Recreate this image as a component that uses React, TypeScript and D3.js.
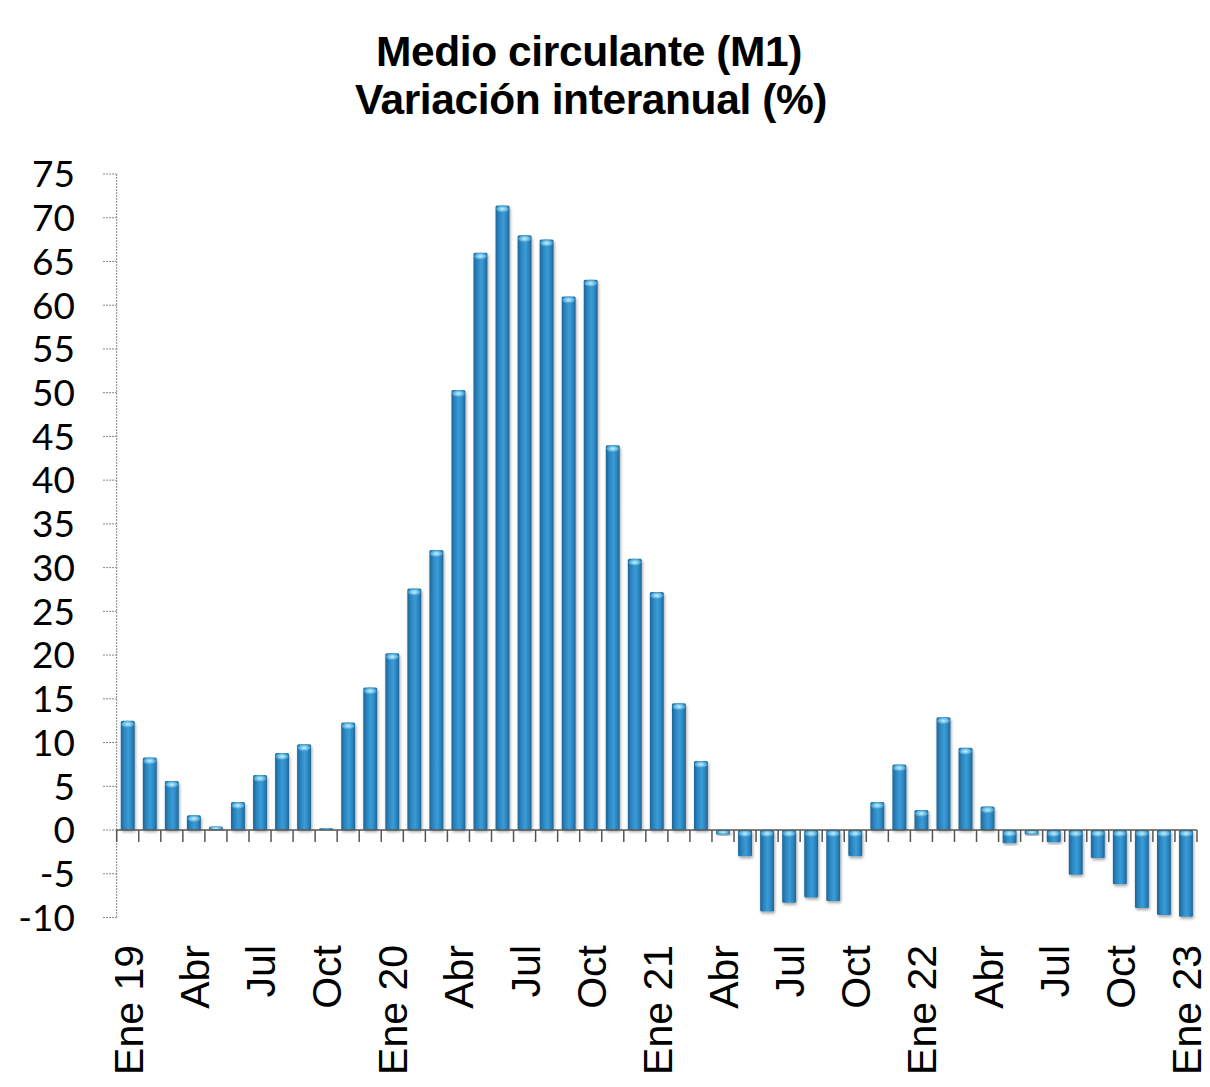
import React from "react";
import * as d3 from "d3";

const months: string[] = [
  "Ene 19","Feb 19","Mar 19","Abr 19","May 19","Jun 19","Jul 19","Ago 19","Sep 19","Oct 19","Nov 19","Dic 19",
  "Ene 20","Feb 20","Mar 20","Abr 20","May 20","Jun 20","Jul 20","Ago 20","Sep 20","Oct 20","Nov 20","Dic 20",
  "Ene 21","Feb 21","Mar 21","Abr 21","May 21","Jun 21","Jul 21","Ago 21","Sep 21","Oct 21","Nov 21","Dic 21",
  "Ene 22","Feb 22","Mar 22","Abr 22","May 22","Jun 22","Jul 22","Ago 22","Sep 22","Oct 22","Nov 22","Dic 22",
  "Ene 23",
];

const values: number[] = [
  12.5, 8.3, 5.6, 1.7, 0.4, 3.2, 6.3, 8.8, 9.8, 0.2, 12.3, 16.3,
  20.2, 27.6, 32.0, 50.3, 66.0, 71.4, 68.0, 67.5, 61.0, 62.9, 44.0, 31.0,
  27.2, 14.5, 7.9, -0.5, -3.0, -9.3, -8.3, -7.7, -8.1, -3.0, 3.2, 7.5,
  2.3, 12.9, 9.4, 2.7, -1.5, -0.5, -1.4, -5.1, -3.2, -6.2, -8.9, -9.7,
  -9.9,
];

const labelShown: Record<string, string> = {
  "Ene 19": "Ene 19", "Abr 19": "Abr", "Jul 19": "Jul", "Oct 19": "Oct",
  "Ene 20": "Ene 20", "Abr 20": "Abr", "Jul 20": "Jul", "Oct 20": "Oct",
  "Ene 21": "Ene 21", "Abr 21": "Abr", "Jul 21": "Jul", "Oct 21": "Oct",
  "Ene 22": "Ene 22", "Abr 22": "Abr", "Jul 22": "Jul", "Oct 22": "Oct",
  "Ene 23": "Ene 23",
};

const yTicks: number[] = [-10, -5, 0, 5, 10, 15, 20, 25, 30, 35, 40, 45, 50, 55, 60, 65, 70, 75];

const titleLines: string[] = ["Medio circulante (M1)", "Variación interanual (%)"];

export default function App() {
  const W = 1210, H = 1087;
  const left = 116.7, right = 1197;
  const y = d3.scaleLinear().domain([-10, 75]).range([917.5, 174]);
  const x = d3.scaleBand<string>().domain(months).range([left, right]).paddingInner(0.37).paddingOuter(0.185);
  const step = x.step();
  const bw = x.bandwidth();
  const y0 = y(0);

  return (
    <svg width={W} height={H} style={{ position: "absolute", left: 0, top: 0, background: "#fff" }}>
      <defs>
        <linearGradient id="barGrad" x1="0" x2="1" y1="0" y2="0">
          <stop offset="0" stopColor="#1d6494" />
          <stop offset="0.25" stopColor="#2c84bf" />
          <stop offset="0.55" stopColor="#399dd6" />
          <stop offset="0.8" stopColor="#2c84bf" />
          <stop offset="1" stopColor="#1d6494" />
        </linearGradient>
        <radialGradient id="capGrad" cx="0.5" cy="0.5" r="0.5">
          <stop offset="0" stopColor="#d0f4ff" />
          <stop offset="0.5" stopColor="#82cdee" />
          <stop offset="1" stopColor="#3a95cc" />
        </radialGradient>
        <filter id="shadow" x="-50%" y="-20%" width="200%" height="140%">
          <feDropShadow dx="1" dy="2" stdDeviation="1.8" floodColor="#000" floodOpacity="0.35" />
        </filter>
      </defs>

      {/* Title */}
      <g fontFamily="'Liberation Sans', Arial, sans-serif" fontWeight="bold" fontSize={42.5} textAnchor="middle" fill="#000">
        <text x={589} y={66} letterSpacing={-0.4}>{titleLines[0]}</text>
        <text x={591} y={114} letterSpacing={-0.4}>{titleLines[1]}</text>
      </g>

      {/* Y axis */}
      <line x1={left} x2={left} y1={y(75)} y2={y(-10)} stroke="#888" strokeWidth={1} strokeDasharray="2,1" />
      {yTicks.map((t) => (
        <g key={t}>
          <line x1={103} x2={left} y1={y(t)} y2={y(t)} stroke="#888" strokeWidth={1} strokeDasharray="2,1" />
          <text x={75} y={y(t)} dy="0.36em" textAnchor="end" fontFamily="Lato, 'Open Sans', sans-serif" fontSize={37} fill="#000">{t}</text>
        </g>
      ))}

      {/* Bars */}
      {months.map((m, i) => {
        const v = values[i];
        const bx = x(m) as number;
        const top = Math.min(y(v), y0);
        const h = Math.max(Math.abs(y(v) - y0), 1.5);
        const capY = v >= 0 ? y(v) : y0;
        const capH = Math.min(7, h);
        return (
          <g key={m} filter="url(#shadow)">
            <rect x={bx} y={top} width={bw} height={h} fill="url(#barGrad)" rx={1.5} />
            <ellipse cx={bx + bw / 2} cy={capY + capH / 2} rx={bw / 2 - 0.5} ry={capH / 2} fill="url(#capGrad)" opacity={0.95} />
          </g>
        );
      })}

      {/* X axis */}
      <line x1={left} x2={right} y1={y0} y2={y0} stroke="#555" strokeWidth={1.5} />
      {d3.range(months.length + 1).map((k) => (
        <line key={k} x1={left + k * step} x2={left + k * step} y1={y0} y2={y0 + 12} stroke="#555" strokeWidth={1.5} />
      ))}

      {/* X labels */}
      {months.map((m) => {
        const lab = labelShown[m];
        if (!lab) return null;
        const cx = (x(m) as number) + bw / 2;
        return (
          <text key={m} transform={`translate(${cx + 15},945) rotate(-90)`} textAnchor="end"
            fontFamily="'Liberation Sans', Arial, sans-serif" fontSize={41} fill="#000">{lab}</text>
        );
      })}
    </svg>
  );
}
